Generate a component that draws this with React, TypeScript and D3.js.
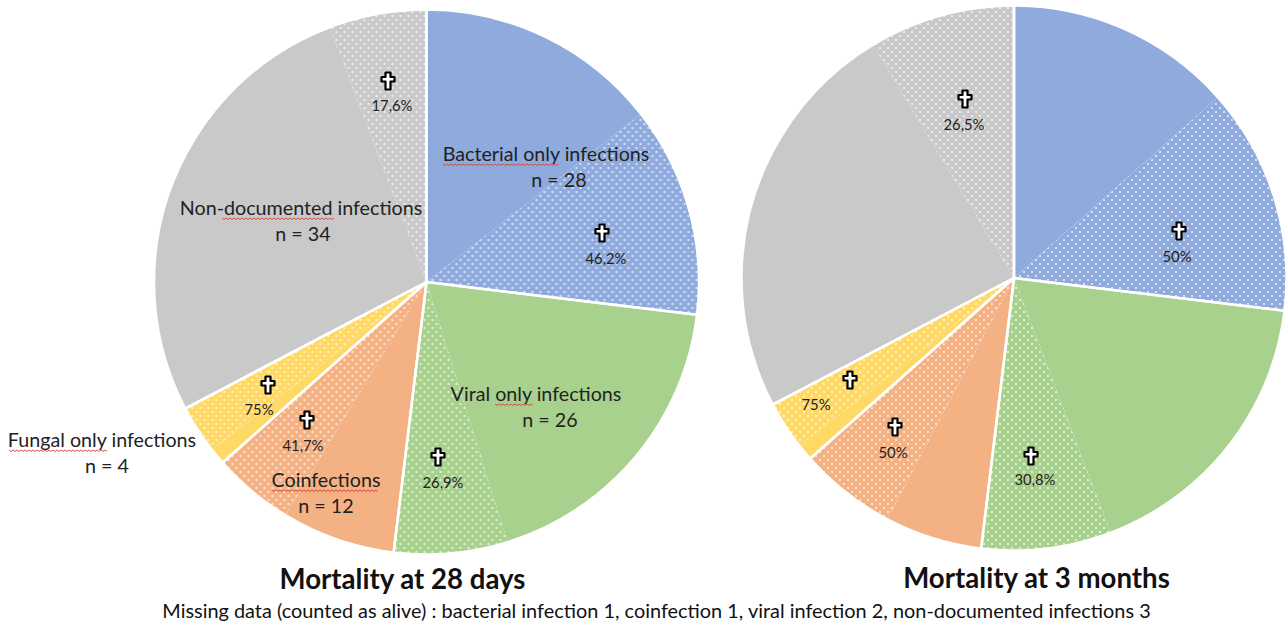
import React from "react";
import * as d3 from "d3";

const categories = ["Bacterial", "Viral", "Coinfection", "Fungal", "Non-documented"];
const colors = ["#8faadc", "#a9d18e", "#f4b183", "#ffd966", "#c9c9c9"];
const alive28 = [15, 19, 7, 1, 28];
const dead28 = [13, 7, 5, 3, 6];
const alive3m = [14, 18, 6, 1, 25];
const dead3m = [14, 8, 6, 3, 9];
const pct28 = ["46,2%", "26,9%", "41,7%", "75%", "17,6%"];
const pct3m = ["50%", "30,8%", "50%", "75%", "26,5%"];
const crossPos28 = [[602, 233], [438, 457], [307, 420], [268, 385], [388, 81]];
const crossPos3m = [[1179, 231], [1031, 456], [895, 427], [850, 380], [965, 99]];
const pctPos28 = [[606, 260], [443, 484], [303, 447], [259, 411], [392, 107]];
const pctPos3m = [[1177, 258], [1035, 481], [893, 454], [816, 406], [964, 126]];

type Lab = { lines: string[]; x: number; x2: number; y: number; squiggle: number[] };
const labels: Lab[] = [
  { lines: ["Bacterial only infections", "n = 28"], x: 546, x2: 559, y: 161, squiggle: [443, 560] },
  { lines: ["Viral only infections", "n = 26"], x: 536, x2: 550, y: 401, squiggle: [495, 533] },
  { lines: ["Coinfections", "n = 12"], x: 326, x2: 326, y: 487, squiggle: [272, 379] },
  { lines: ["Fungal only infections", "n = 4"], x: 102, x2: 107, y: 447, squiggle: [9, 108] },
  { lines: ["Non-documented infections", "n = 34"], x: 301, x2: 303, y: 215, squiggle: [222, 335] },
];
const FONT = "Lato, 'Open Sans', sans-serif";

function Cross({ x, y }: { x: number; y: number }) {
  const d = "M-2.5,-8.5H2.5V-4H6.5V0.5H2.5V8.5H-2.5V0.5H-6.5V-4H-2.5Z";
  return <path transform={`translate(${x},${y})`} d={d} fill="#fff" stroke="#000" strokeWidth={2.2} strokeLinejoin="round" />;
}

function Squiggle({ x0, x1, y }: { x0: number; x1: number; y: number }) {
  const pts: [number, number][] = d3.range(x0, x1 + 0.1, 2).map((x, i) => [x, y + (i % 2 ? 1.5 : 0)]);
  return <path d={d3.line()(pts) || ""} fill="none" stroke="#e0403a" strokeWidth={0.9} />;
}

function Pie({ cx, cy, r, alive, dead }: { cx: number; cy: number; r: number; alive: number[]; dead: number[] }) {
  const pairs = categories.flatMap((_, i) => [
    { cat: i, v: alive[i], dotted: false },
    { cat: i, v: dead[i], dotted: true },
  ]);
  const arcs = d3.pie<any>().sort(null).value((d) => d.v)(pairs);
  const arc = d3.arc<any>().innerRadius(0).outerRadius(r);
  const outer = d3.pie<number>().sort(null)(categories.map((_, i) => alive[i] + dead[i]));
  return (
    <g transform={`translate(${cx},${cy})`}>
      {arcs.map((a, i) => (
        <path key={i} d={arc(a) || ""} fill={a.data.dotted ? `url(#dots${a.data.cat})` : colors[a.data.cat]} />
      ))}
      {outer.map((a, i) => (
        <path key={i} d={arc(a) || ""} fill="none" stroke="#fff" strokeWidth={2.5} strokeLinejoin="round" />
      ))}
    </g>
  );
}

export default function App() {
  return (
    <svg width={1288} height={626} style={{ position: "absolute", left: 0, top: 0, background: "#fff" }} fontFamily={FONT}>
      <defs>
        {colors.map((c, i) => (
          <pattern key={i} id={`dots${i}`} width={8} height={8} patternUnits="userSpaceOnUse">
            <rect width={8} height={8} fill={c} />
            <circle cx={2} cy={2} r={1.1} fill="#fff" fillOpacity={0.8} />
            <circle cx={6} cy={6} r={1.1} fill="#fff" fillOpacity={0.8} />
          </pattern>
        ))}
      </defs>
      <Pie cx={426.5} cy={282} r={272.5} alive={alive28} dead={dead28} />
      <Pie cx={1014} cy={278} r={272.5} alive={alive3m} dead={dead3m} />
      {crossPos28.concat(crossPos3m).map(([x, y], i) => <Cross key={i} x={x} y={y} />)}
      {pct28.map((t, i) => (
        <text key={i} x={pctPos28[i][0]} y={pctPos28[i][1] + 4} textAnchor="middle" fontSize={14.8} fill="#222">{t}</text>
      ))}
      {pct3m.map((t, i) => (
        <text key={i} x={pctPos3m[i][0]} y={pctPos3m[i][1] + 4} textAnchor="middle" fontSize={14.8} fill="#222">{t}</text>
      ))}
      {labels.map((l, i) => (
        <g key={i}>
          <text x={l.x} y={l.y} textAnchor="middle" fontSize={19.7} fill="#222">{l.lines[0]}</text>
          <text x={l.x2} y={l.y + 26} textAnchor="middle" fontSize={19.7} fill="#222">{l.lines[1]}</text>
          <Squiggle x0={l.squiggle[0]} x1={l.squiggle[1]} y={l.y + 3} />
        </g>
      ))}
      <text x={402.5} y={589} textAnchor="middle" fontSize={27.6} fontWeight={700} fill="#111">Mortality at 28 days</text>
      <text x={1036.5} y={588} textAnchor="middle" fontSize={27.6} fontWeight={700} fill="#111">Mortality at 3 months</text>
      <text x={656.5} y={618} textAnchor="middle" fontSize={19.9} fill="#111">Missing data (counted as alive) : bacterial infection 1, coinfection 1, viral infection 2, non-documented infections 3</text>
    </svg>
  );
}
